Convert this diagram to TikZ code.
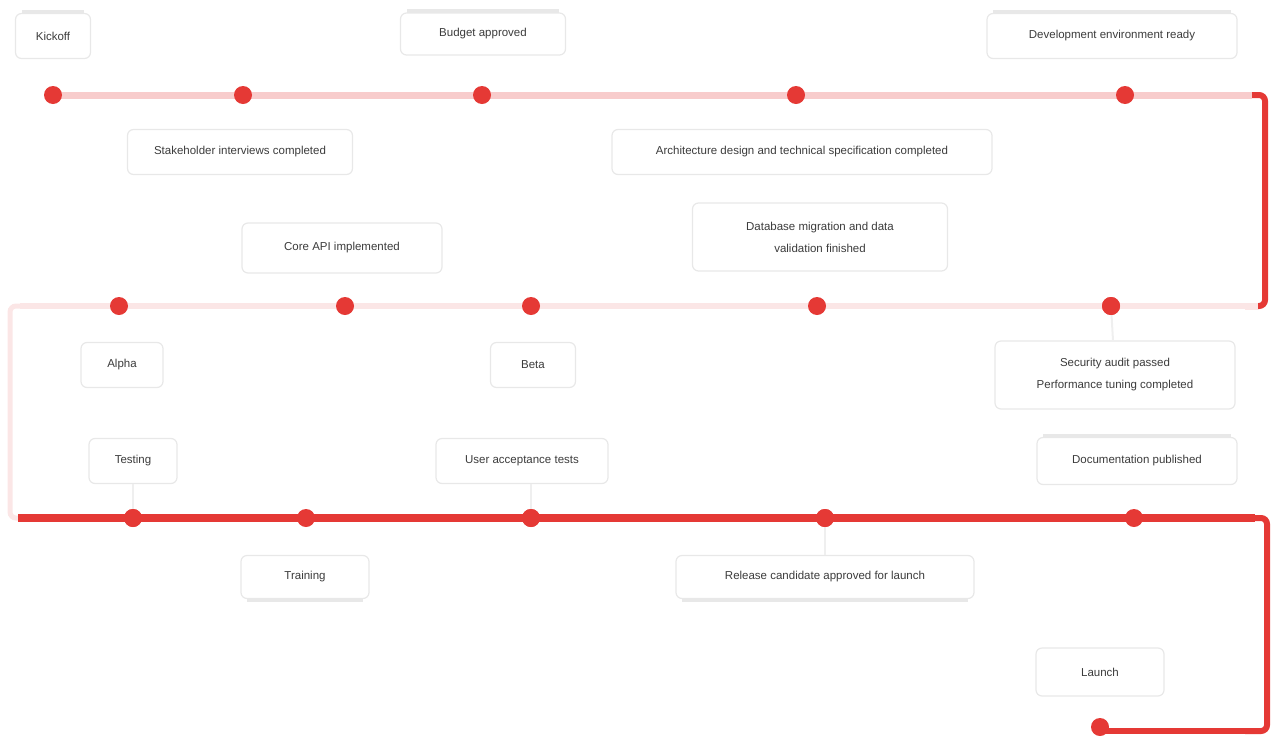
\documentclass[tikz,border=0pt]{standalone}
\usepackage{fontspec}
\setmainfont{Liberation Sans}
\definecolor{rd}{RGB}{229,57,53}
\definecolor{pk}{RGB}{248,204,204}
\definecolor{pkl}{RGB}{251,230,230}
\definecolor{bd}{RGB}{232,232,232}
\definecolor{tx}{RGB}{60,60,60}
\begin{document}
\begin{tikzpicture}[x=1pt,y=-1pt,
  dot/.style={circle,fill=rd,inner sep=0pt,minimum size=18pt},
  lbl/.style={draw=bd,line width=1.2pt,rounded corners=6pt,fill=white,align=center,
    text=tx,font=\fontsize{11.5}{22}\selectfont,inner sep=4pt},
  bar/.style={draw=bd,line width=4pt},
  stub/.style={draw=bd!70,line width=2pt},
]
\useasboundingbox (0,0) rectangle (1272,737);
% track
\draw[rd,line width=6pt,rounded corners=6pt] (1245,95) -| (1265,306) -- (1245,306);
\draw[pkl,line width=5pt,rounded corners=6pt] (25,306) -| (10,518) -- (25,518);
\draw[rd,line width=6pt,rounded corners=6pt] (1245,518) -| (1267,731) -- (1245,731);
\draw[pk,line width=7pt] (45,95) -- (1252,95);
\draw[pkl,line width=6pt] (1258,306) -- (20,306);
\draw[rd,line width=8pt] (18,518) -- (1255,518);
\draw[rd,line width=6pt] (1255,731) -- (1100,731);
% markers
\node[dot] (m1) at (53,95) {};
\node[dot] (m2) at (243,95) {};
\node[dot] (m3) at (482,95) {};
\node[dot] (m4) at (796,95) {};
\node[dot] (m5) at (1125,95) {};
\node[dot] (m6) at (119,306) {};
\node[dot] (m7) at (345,306) {};
\node[dot] (m8) at (531,306) {};
\node[dot] (m9) at (817,306) {};
\node[dot] (m10) at (1111,306) {};
\node[dot] (m11) at (133,518) {};
\node[dot] (m12) at (306,518) {};
\node[dot] (m13) at (531,518) {};
\node[dot] (m14) at (825,518) {};
\node[dot] (m15) at (1134,518) {};
\node[dot] (m16) at (1100,727) {};
% labels
\node[lbl,minimum width=75pt,minimum height=45pt] (l1) at (53,36) {Kickoff};
\node[lbl,minimum width=225pt,minimum height=45pt] (l2) at (240,152) {Stakeholder interviews completed};
\node[lbl,minimum width=165pt,minimum height=42pt] (l3) at (483,34) {Budget approved};
\node[lbl,minimum width=380pt,minimum height=45pt] (l4) at (802,152) {Architecture design and technical specification completed};
\node[lbl,minimum width=250pt,minimum height=45pt] (l5) at (1112,36) {Development environment ready};
\node[lbl,minimum width=255pt,minimum height=68pt] (l6) at (820,237) {Database migration and data\\validation finished};
\node[lbl,minimum width=200pt,minimum height=50pt] (l7) at (342,248) {Core API implemented};
\node[lbl,minimum width=82pt,minimum height=45pt] (l8) at (122,365) {Alpha};
\node[lbl,minimum width=85pt,minimum height=45pt] (l9) at (533,365) {Beta};
\node[lbl,minimum width=240pt,minimum height=68pt] (l10) at (1115,375) {Security audit passed\\Performance tuning completed};
\node[lbl,minimum width=88pt,minimum height=45pt] (l11) at (133,461) {Testing};
\node[lbl,minimum width=172pt,minimum height=45pt] (l12) at (522,461) {User acceptance tests};
\node[lbl,minimum width=200pt,minimum height=47pt] (l13) at (1137,461) {Documentation published};
\node[lbl,minimum width=128pt,minimum height=43pt] (l14) at (305,577) {Training};
\node[lbl,minimum width=298pt,minimum height=43pt] (l15) at (825,577) {Release candidate approved for launch};
\node[lbl,minimum width=128pt,minimum height=48pt] (l16) at (1100,672) {Launch};
% accent bars
\foreach \n in {l1,l3,l5,l13}{
  \draw[bar] ([xshift=7pt,yshift=1pt]\n.north west) -- ([xshift=-7pt,yshift=1pt]\n.north east);}
\foreach \n in {l14,l15}{
  \draw[bar] ([xshift=7pt,yshift=-1pt]\n.south west) -- ([xshift=-7pt,yshift=-1pt]\n.south east);}
% stubs
\draw[stub] (m10) -- (l10);
\draw[stub] (m11) -- (l11);
\draw[stub] (m13) -- (l12.south -| m13);
\draw[stub] (m14) -- (l15);
\node[dot] at (m10) {};
\node[dot] at (m11) {};
\node[dot] at (m13) {};
\node[dot] at (m14) {};
\end{tikzpicture}
\end{document}
